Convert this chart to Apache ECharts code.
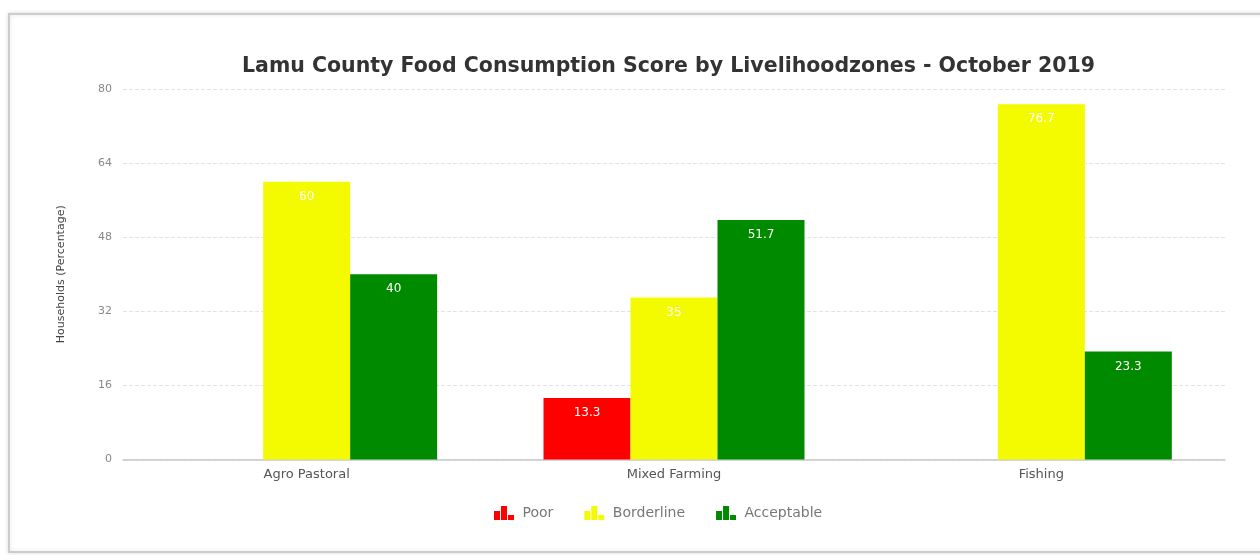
<!DOCTYPE html>
<html>
<head>
<meta charset="utf-8">
<title>Lamu County Food Consumption Score</title>
<script src="https://cdn.jsdelivr.net/npm/echarts@6/dist/echarts.min.js"></script>
<style>
  html, body { margin: 0; padding: 0; background: #ffffff; overflow: hidden; }
  #chart { position: absolute; left: 0; top: 0; width: 1260px; height: 555px; }
</style>
</head>
<body>
<div id="chart"></div>
<script>
// Livelihood zones along the x axis
const zones = ['Agro Pastoral', 'Mixed Farming', 'Fishing'];
// Share of households (%) per food consumption group
const poor = [null, 13.3, null];
const borderline = [60, 35, 76.7];
const acceptable = [40, 51.7, 23.3];
// Y axis range and step
const yMin = 0, yMax = 80, yStep = 16;

const FONT = 'DejaVu Sans';
// small bar-chart glyph used as legend symbol
const barIcon = 'path://M0,5H6V14H0Z M7,0H13V14H7Z M14,9H20V14H14Z';

function barSeries(name, data, color) {
  return {
    name: name,
    type: 'bar',
    data: data,
    barWidth: 87,
    barGap: '0%',
    itemStyle: { color: color },
    label: {
      show: true,
      position: 'insideTop',
      distance: 9,
      color: '#ffffff',
      fontFamily: FONT,
      fontSize: 12
    }
  };
}

const chart = echarts.init(document.getElementById('chart'), null, { renderer: 'canvas' });
chart.setOption({
  animation: false,
  backgroundColor: '#ffffff',
  // card outline around the whole chart
  graphic: [{
    type: 'rect',
    z: -1,
    shape: { x: 9, y: 14, width: 1320, height: 538 },
    style: {
      fill: '#ffffff',
      stroke: '#cccccc',
      lineWidth: 2,
      shadowBlur: 4,
      shadowColor: 'rgba(0,0,0,0.12)'
    }
  }],
  title: {
    text: 'Lamu County Food Consumption Score by Livelihoodzones - October 2019',
    left: 242,
    top: 56,
    padding: 0,
    textStyle: { fontFamily: FONT, fontSize: 20.5, fontWeight: 'bold', color: '#333333' }
  },
  legend: {
    left: 489,
    top: 501,
    itemWidth: 21,
    itemHeight: 14,
    itemGap: 31,
    icon: barIcon,
    textStyle: { fontFamily: FONT, fontSize: 14, color: '#777777', padding: [0, 0, 0, 3] },
    data: ['Poor', 'Borderline', 'Acceptable']
  },
  grid: { left: 123, right: 35, top: 89, bottom: 95.5, outerBoundsMode: 'none' },
  xAxis: {
    type: 'category',
    data: zones,
    axisLine: { show: true, lineStyle: { color: '#c8c8c8', width: 1.5 } },
    axisTick: { show: false },
    axisLabel: { fontFamily: FONT, fontSize: 13, color: '#555555', margin: 9 }
  },
  yAxis: {
    type: 'value',
    min: yMin,
    max: yMax,
    interval: yStep,
    name: 'Households (Percentage)',
    nameLocation: 'middle',
    nameRotate: 90,
    nameGap: 56,
    nameTextStyle: { fontFamily: FONT, fontSize: 11, color: '#444444' },
    axisLine: { show: false },
    axisTick: { show: false },
    axisLabel: { fontFamily: FONT, fontSize: 11, color: '#888888', margin: 11 },
    splitLine: { lineStyle: { color: '#e2e2e2', type: 'dashed' } }
  },
  series: [
    barSeries('Poor', poor, '#ff0000'),
    barSeries('Borderline', borderline, '#f4fa00'),
    barSeries('Acceptable', acceptable, '#008a00')
  ]
});
</script>
</body>
</html>
